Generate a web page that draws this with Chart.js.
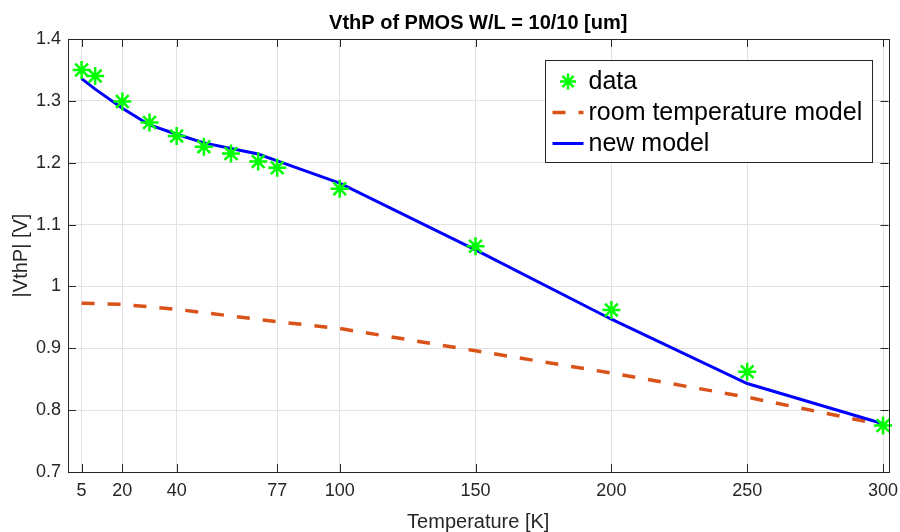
<!DOCTYPE html>
<html>
<head>
<meta charset="utf-8">
<script src="https://cdn.jsdelivr.net/npm/chart.js@4.4.1/dist/chart.umd.min.js"></script>
<style>
  html, body { margin: 0; padding: 0; background: #fff; }
  #wrap { width: 900px; height: 532px; }
</style>
</head>
<body>
<div id="wrap"><canvas id="chart" width="900" height="532"></canvas></div>
<script>
// temperatures [K] of the measured points and the new model
const temps = [5, 10, 20, 30, 40, 50, 60, 70, 77, 100, 150, 200, 250, 300];
const measured = [1.350, 1.340, 1.299, 1.265, 1.243, 1.226, 1.215, 1.202, 1.192, 1.158, 1.065, 0.962, 0.862, 0.775];
const newModel = [1.336, 1.319, 1.288, 1.261, 1.246, 1.232, 1.223, 1.214, 1.203, 1.167, 1.059, 0.947, 0.843, 0.778];

// room temperature model
const roomTemps = [5, 20, 40, 77, 100, 150, 200, 250, 300];
const roomModel = [0.973, 0.971, 0.963, 0.943, 0.932, 0.896, 0.860, 0.821, 0.776];

const xTicks = [5, 20, 40, 77, 100, 150, 200, 250, 300];

const FONT = '"Liberation Sans", Arial, Helvetica, sans-serif';
const AXIS = '#262626';

const pairs = (xs, ys) => xs.map((x, i) => ({ x: x, y: ys[i] }));

function drawAsterisk(ctx, x, y, r) {
  for (let k = 0; k < 4; k++) {
    const a = k * Math.PI / 4;
    ctx.beginPath();
    ctx.moveTo(x - Math.cos(a) * r, y - Math.sin(a) * r);
    ctx.lineTo(x + Math.cos(a) * r, y + Math.sin(a) * r);
    ctx.stroke();
  }
}

// axes box with inward ticks on all sides, plus a boxed legend
const matlabAxes = {
  id: 'matlabAxes',
  afterDatasetsDraw(chart) {
    const { ctx, chartArea: a, scales } = chart;
    const tl = 8;
    ctx.save();
    ctx.strokeStyle = AXIS;
    ctx.lineWidth = 1;
    ctx.beginPath();
    scales.x.ticks.forEach(t => {
      const px = Math.round(scales.x.getPixelForValue(t.value)) + 0.5;
      ctx.moveTo(px, a.bottom); ctx.lineTo(px, a.bottom - tl);
      ctx.moveTo(px, a.top); ctx.lineTo(px, a.top + tl);
    });
    scales.y.ticks.forEach(t => {
      const py = Math.round(scales.y.getPixelForValue(t.value)) + 0.5;
      ctx.moveTo(a.left, py); ctx.lineTo(a.left + tl, py);
      ctx.moveTo(a.right, py); ctx.lineTo(a.right - tl, py);
    });
    ctx.stroke();
    ctx.strokeRect(Math.round(a.left) + 0.5, Math.round(a.top) + 0.5,
      Math.round(a.right - a.left), Math.round(a.bottom - a.top));

    // legend
    const lw = 327, lh = 102;
    const lx = Math.round(a.right - 17 - lw) + 0.5;
    const ly = Math.round(a.top + 21) + 0.5;
    ctx.fillStyle = '#fff';
    ctx.fillRect(lx, ly, lw, lh);
    ctx.strokeStyle = AXIS;
    ctx.strokeRect(lx, ly, lw, lh);

    const ds = chart.data.datasets;
    const rows = [ly + 21, ly + 52, ly + 83];
    const s0 = lx + 7, s1 = lx + 38;
    ctx.font = '25px ' + FONT;
    ctx.textBaseline = 'middle';
    ctx.textAlign = 'left';
    ds.forEach((d, i) => {
      const y = rows[i];
      ctx.save();
      if (d.pointStyle === 'star') {
        ctx.strokeStyle = d.borderColor;
        ctx.lineWidth = d.pointBorderWidth;
        drawAsterisk(ctx, (s0 + s1) / 2, y, 8);
      } else {
        ctx.strokeStyle = d.borderColor;
        ctx.lineWidth = d.borderWidth;
        ctx.setLineDash(d.borderDash || []);
        ctx.beginPath();
        ctx.moveTo(s0, y); ctx.lineTo(s1, y);
        ctx.stroke();
      }
      ctx.restore();
      ctx.fillStyle = '#000';
      ctx.fillText(d.label, lx + 43, y + 1);
    });
    ctx.restore();
  }
};

new Chart(document.getElementById('chart'), {
  type: 'scatter',
  data: {
    datasets: [
      {
        label: 'data',
        data: pairs(temps, measured),
        showLine: false,
        pointStyle: 'star',
        pointRadius: 9,
        pointBorderWidth: 2.5,
        borderColor: '#00ff00',
        backgroundColor: '#00ff00',
        clip: false,
        order: 0
      },
      {
        label: 'room temperature model',
        data: pairs(roomTemps, roomModel),
        showLine: true,
        pointRadius: 0,
        borderColor: '#D95319',
        borderWidth: 3.5,
        borderDash: [13, 13],
        tension: 0,
        order: 2
      },
      {
        label: 'new model',
        data: pairs(temps, newModel),
        showLine: true,
        pointRadius: 0,
        borderColor: '#0000ff',
        borderWidth: 3,
        tension: 0,
        order: 1
      }
    ]
  },
  options: {
    responsive: false,
    animation: false,
    events: [],
    layout: { padding: { right: 11 } },
    plugins: {
      legend: { display: false },
      tooltip: { enabled: false },
      title: {
        display: true,
        text: 'VthP of PMOS W/L = 10/10 [um]',
        fullSize: false,
        color: '#000',
        font: { family: FONT, size: 20, weight: 'bold', lineHeight: 1.2 },
        padding: { top: 11, bottom: 4 }
      }
    },
    scales: {
      x: {
        type: 'linear',
        min: 0,
        max: 302,
        afterBuildTicks(scale) { scale.ticks = xTicks.map(v => ({ value: v })); },
        afterFit(scale) {
          scale.height = 60;
          scale.paddingLeft = 0;
          scale.paddingRight = 0;
        },
        grid: { color: '#e2e2e2', drawTicks: false },
        border: { display: false },
        ticks: {
          color: AXIS,
          padding: 8,
          maxRotation: 0,
          autoSkip: false,
          font: { family: FONT, size: 18 },
          callback: v => String(v)
        },
        title: {
          display: true,
          text: 'Temperature [K]',
          color: AXIS,
          font: { family: FONT, size: 20, lineHeight: 1.0 },
          padding: { top: 0, bottom: 0 }
        }
      },
      y: {
        min: 0.7,
        max: 1.4,
        afterFit(scale) {
          scale.width = 68;
          scale.paddingTop = 0;
          scale.paddingBottom = 0;
        },
        grid: { color: '#e2e2e2', drawTicks: false },
        border: { display: false },
        ticks: {
          stepSize: 0.1,
          color: AXIS,
          padding: 7,
          font: { family: FONT, size: 18 },
          callback: v => String(Number(v.toFixed(1)))
        },
        title: {
          display: true,
          text: '|VthP| [V]',
          color: AXIS,
          font: { family: FONT, size: 20, lineHeight: 1.2 },
          padding: { top: 9, bottom: 0 }
        }
      }
    }
  },
  plugins: [matlabAxes]
});
</script>
</body>
</html>
